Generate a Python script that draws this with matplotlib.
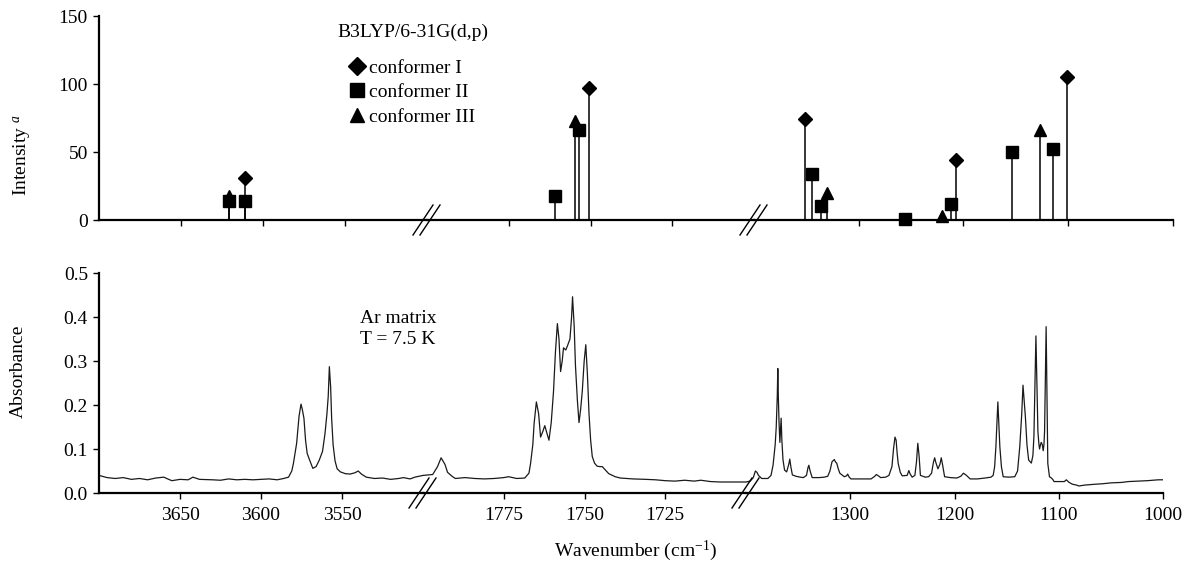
import numpy as np
import matplotlib
matplotlib.use("Agg")
import matplotlib.pyplot as plt
from matplotlib.lines import Line2D

plt.rcParams['font.family'] = ['Liberation Serif', 'DejaVu Serif']
plt.rcParams['mathtext.fontset'] = 'custom'
plt.rcParams['mathtext.rm'] = 'Liberation Serif'
plt.rcParams['mathtext.it'] = 'Liberation Serif:italic'
plt.rcParams['font.size'] = 14

# pedacos do eixo x (cm-1), do maior para o menor
segmentos = [(3700, 3500), (1800, 1700), (1400, 1000)]
ticks_seg = [[3650, 3600, 3550], [1775, 1750, 1725], [1300, 1200, 1100, 1000]]

# B3LYP/6-31G(d,p) - intensidades calculadas
conf1_wn = [3611, 1750.5, 1351, 1207, 1101]
conf1_int = [31, 97, 74, 44, 105]
conf2_wn = [3621, 3611, 1761, 1753.6, 1345, 1336, 1256, 1212, 1154, 1115]
conf2_int = [14, 14, 18, 66, 34, 10, 0.5, 12, 50, 52]
conf3_wn = [3621, 1754.7, 1330, 1221, 1127]
conf3_int = [18, 73, 20, 3, 66]

# espectro experimental (matriz de Ar, 7.5 K)
esp1_wn = [3700, 3695, 3690, 3685, 3680, 3675, 3670, 3665, 3660, 3657, 3655, 3650, 3645, 3642, 3638,
           3630, 3625, 3620, 3615, 3610, 3605, 3600, 3595, 3590, 3586, 3583, 3581, 3580, 3578, 3576.5,
           3575.3, 3574.5, 3573.5, 3572.5, 3571.5, 3570, 3568, 3566, 3564, 3562, 3560.5, 3559.3, 3558.5,
           3557.8, 3557, 3556.4, 3555.5, 3554.3, 3553, 3551, 3548, 3545, 3542, 3540, 3538, 3535, 3530,
           3525, 3520, 3515, 3512, 3508, 3505, 3500]
esp1_abs = [0.040, 0.035, 0.033, 0.035, 0.031, 0.033, 0.030, 0.034, 0.036, 0.031, 0.028, 0.031, 0.030, 0.036, 0.031,
            0.030, 0.029, 0.032, 0.030, 0.031, 0.030, 0.031, 0.032, 0.030, 0.033, 0.036, 0.050, 0.067, 0.113, 0.175,
            0.202, 0.190, 0.170, 0.120, 0.090, 0.075, 0.056, 0.060, 0.075, 0.095, 0.135, 0.180, 0.220,
            0.287, 0.240, 0.170, 0.110, 0.073, 0.055, 0.048, 0.044, 0.043, 0.046, 0.050, 0.043, 0.036, 0.033,
            0.034, 0.031, 0.033, 0.035, 0.032, 0.036, 0.040]

esp2_wn = [1800, 1797, 1795.5, 1794.4, 1793.2, 1792.4, 1791, 1790, 1787, 1784, 1781, 1778, 1775, 1773.5,
           1771, 1768.5, 1767.2, 1766.7, 1766, 1765.6, 1764.9, 1764.2, 1763.6, 1762.9, 1762.3, 1761.6, 1761,
           1760.3, 1759.6, 1759, 1758.4, 1757.9, 1757.4, 1756.9, 1756.5, 1755.8, 1755.3, 1754.5, 1754, 1753.7,
           1753.2, 1752.8, 1752.2, 1751.7, 1751.2, 1750.7, 1750.1, 1749.6, 1749.1, 1748.6, 1748.1, 1747.6,
           1746.9, 1746.1, 1745.3, 1744.5, 1743.5, 1742.5, 1740.5, 1738.9, 1735, 1731, 1728, 1725, 1722,
           1719, 1716, 1714, 1711, 1708, 1704, 1700]
esp2_abs = [0.040, 0.042, 0.060, 0.080, 0.065, 0.047, 0.038, 0.033, 0.035, 0.033, 0.032, 0.033, 0.035, 0.037,
            0.033, 0.034, 0.045, 0.067, 0.110, 0.158, 0.207, 0.180, 0.127, 0.140, 0.153, 0.135, 0.120,
            0.160, 0.230, 0.320, 0.385, 0.350, 0.276, 0.300, 0.330, 0.325, 0.334, 0.350, 0.400, 0.446,
            0.380, 0.290, 0.210, 0.160, 0.190, 0.230, 0.300, 0.337, 0.270, 0.180, 0.120, 0.083,
            0.068, 0.061, 0.060, 0.060, 0.052, 0.044, 0.037, 0.034, 0.032, 0.031, 0.030, 0.028, 0.027,
            0.029, 0.027, 0.029, 0.026, 0.025, 0.025, 0.025]

esp3_wn = [1400, 1396, 1393, 1391, 1389.5, 1388, 1385, 1379, 1376, 1374, 1372, 1371, 1370, 1369.5, 1369,
           1368.3, 1367.5, 1366.8, 1366.3, 1365.6, 1364.5, 1363, 1361, 1359, 1358, 1357, 1355.5, 1352, 1348,
           1345, 1342, 1340.5, 1339.7, 1338.5, 1336.5, 1330, 1325, 1321.6, 1319.5, 1317.5, 1315.3, 1314,
           1313, 1311.5, 1310, 1305.7, 1303.5, 1302.5, 1301, 1299.3, 1290, 1280, 1276.5, 1275, 1273,
           1270.8, 1266, 1262.9, 1260, 1258.5, 1257.1, 1256, 1255, 1254, 1252, 1250.2, 1245.4, 1243.8,
           1242.5, 1240.6, 1238, 1236.5, 1235.2, 1234, 1232.7, 1228, 1224.8, 1222, 1220.2, 1219, 1218,
           1215.9, 1214, 1212.7, 1211.5, 1209.5, 1204, 1197.8, 1194, 1191.4, 1188.5, 1185, 1178, 1170.8,
           1165, 1162.9, 1161.5, 1160.3, 1159.3, 1158.4, 1157.5, 1156.5, 1155, 1153.3, 1148, 1142.2,
           1139.5, 1137.4, 1135.5, 1134.3, 1133.2, 1132, 1130.5, 1128.9, 1126.3, 1124.8, 1123.8, 1122.8,
           1121.9, 1121, 1120, 1119, 1118.4, 1117.5, 1116.8, 1115.8, 1114.9, 1114.2, 1113.6, 1112.8,
           1112.1, 1111.4, 1110.5, 1108.9, 1107, 1105.5, 1104.5, 1100, 1094.6, 1092.8, 1090, 1086.9,
           1083, 1080.6, 1075, 1070, 1064.8, 1058, 1050, 1040, 1033, 1025, 1015, 1004.5, 1000]
esp3_abs = [0.025, 0.027, 0.035, 0.050, 0.047, 0.040, 0.033, 0.033, 0.040, 0.064, 0.110, 0.150, 0.220, 0.283, 0.220,
            0.160, 0.115, 0.150, 0.170, 0.120, 0.075, 0.052, 0.048, 0.065, 0.077, 0.060, 0.041, 0.038, 0.036,
            0.035, 0.040, 0.058, 0.063, 0.050, 0.035, 0.035, 0.036, 0.038, 0.050, 0.071, 0.076, 0.070,
            0.068, 0.055, 0.045, 0.037, 0.039, 0.043, 0.036, 0.032, 0.032, 0.032, 0.038, 0.042, 0.039,
            0.035, 0.036, 0.040, 0.060, 0.100, 0.127, 0.120, 0.090, 0.067, 0.047, 0.039, 0.040, 0.051,
            0.043, 0.036, 0.040, 0.070, 0.113, 0.085, 0.040, 0.036, 0.037, 0.045, 0.070, 0.080, 0.070,
            0.055, 0.065, 0.080, 0.065, 0.037, 0.035, 0.034, 0.038, 0.045, 0.040, 0.032, 0.032, 0.034,
            0.036, 0.040, 0.060, 0.105, 0.160, 0.207, 0.160, 0.105, 0.060, 0.037, 0.036, 0.037,
            0.050, 0.105, 0.180, 0.245, 0.210, 0.173, 0.110, 0.075, 0.068, 0.085, 0.130, 0.250,
            0.357, 0.250, 0.140, 0.110, 0.100, 0.110, 0.115, 0.110, 0.096, 0.110, 0.140, 0.260,
            0.378, 0.250, 0.067, 0.037, 0.034, 0.030, 0.026, 0.026, 0.026, 0.030, 0.024, 0.020,
            0.018, 0.016, 0.018, 0.019, 0.020, 0.021, 0.023, 0.024, 0.026, 0.027, 0.028, 0.030, 0.030]

espectro = [(esp1_wn, esp1_abs), (esp2_wn, esp2_abs), (esp3_wn, esp3_abs)]
conformeros = [(conf1_wn, conf1_int, 'D', 7.5, 'conformer I'),
               (conf2_wn, conf2_int, 's', 8, 'conformer II'),
               (conf3_wn, conf3_int, '^', 8.5, 'conformer III')]

W, H = 1185, 562
fig = plt.figure(figsize=(W / 100, H / 100), dpi=100)


def eixo(x0, x1, ytopo, ybase):
    return fig.add_axes([x0 / W, 1 - ybase / H, (x1 - x0) / W, (ybase - ytopo) / H])


def estilo(ax, i, mostra_labels):
    ax.patch.set_visible(False)
    ax.set_xlim(segmentos[i])
    ax.set_xticks(ticks_seg[i])
    ax.spines['top'].set_visible(False)
    ax.spines['right'].set_visible(False)
    ax.spines['bottom'].set_linewidth(1.6)
    ax.spines['left'].set_linewidth(1.6)
    ax.tick_params(axis='x', direction='out', length=4, width=1, labelsize=14, pad=6)
    ax.tick_params(axis='y', direction='out', length=4, width=1, labelsize=14, pad=4)
    if not mostra_labels:
        ax.tick_params(axis='x', labelbottom=False)
    if i > 0:
        ax.spines['left'].set_visible(False)
        ax.tick_params(axis='y', left=False, labelleft=False)


def quebra(ax):
    pos = ax.get_position()
    for dx in (-4, 3):
        xa = pos.x1 + (dx - 10) / W
        xb = pos.x1 + (dx + 10) / W
        fig.add_artist(Line2D([xa, xb], [pos.y0 - 15 / H, pos.y0 + 15 / H],
                              transform=fig.transFigure, color='k', lw=1))


# painel de cima: calculado
bordas_sup = [99, 427, 754, 1173]
eixos_sup = []
for i, (hi, lo) in enumerate(segmentos):
    ax = eixo(bordas_sup[i], bordas_sup[i + 1], 16, 220)
    estilo(ax, i, False)
    ax.set_ylim(0, 150)
    ax.set_yticks([0, 50, 100, 150])
    for wn, inten, mk, ms, nome in conformeros:
        wn = np.array(wn)
        inten = np.array(inten)
        m = (wn <= hi) & (wn >= lo)
        ax.vlines(wn[m], 0, inten[m], color='k', lw=1.1)
        ax.plot(wn[m], inten[m], mk, ms=ms, color='k', ls='none', clip_on=False)
    eixos_sup.append(ax)

eixos_sup[0].set_ylabel('Intensity $^{a}$', va='center')
eixos_sup[0].yaxis.set_label_coords(-0.235, 0.32)

# painel de baixo: experimental
bordas_inf = [99, 423, 746, 1163]
eixos_inf = []
for i, (wn, ab) in enumerate(espectro):
    ax = eixo(bordas_inf[i], bordas_inf[i + 1], 273, 493)
    estilo(ax, i, True)
    ax.set_ylim(0, 0.5)
    ax.set_yticks([0, 0.1, 0.2, 0.3, 0.4, 0.5])
    ax.set_yticklabels(['%.1f' % v for v in [0, 0.1, 0.2, 0.3, 0.4, 0.5]])
    ax.plot(wn, ab, color='#1a1a1a', lw=0.9)
    eixos_inf.append(ax)

eixos_inf[0].set_ylabel('Absorbance', va='center')
eixos_inf[0].yaxis.set_label_coords(-0.25, 0.555)

for ax in eixos_sup[:2] + eixos_inf[:2]:
    quebra(ax)

legenda = [Line2D([], [], marker=mk, ms=ms * 1.2, color='k', ls='none', label=nome)
           for wn, inten, mk, ms, nome in conformeros]
fig.legend(handles=legenda, loc='upper left', bbox_to_anchor=(350 / W, 1 - 59 / H),
           frameon=False, handlelength=0.7, handletextpad=0.3, labelspacing=0.36,
           borderpad=0, borderaxespad=0, fontsize=14)

fig.text(337 / W, 1 - 32 / H, 'B3LYP/6-31G(d,p)', ha='left', va='center', fontsize=14)
fig.text(360 / W, 1 - 329 / H, 'Ar matrix\nT = 7.5 K', ha='left', va='center',
         fontsize=14, linespacing=1.35)
fig.text(636 / W, 1 - 551 / H, 'Wavenumber (cm$^{-1}$)', ha='center', va='center', fontsize=14)

fig.savefig('out.png', dpi=100)
